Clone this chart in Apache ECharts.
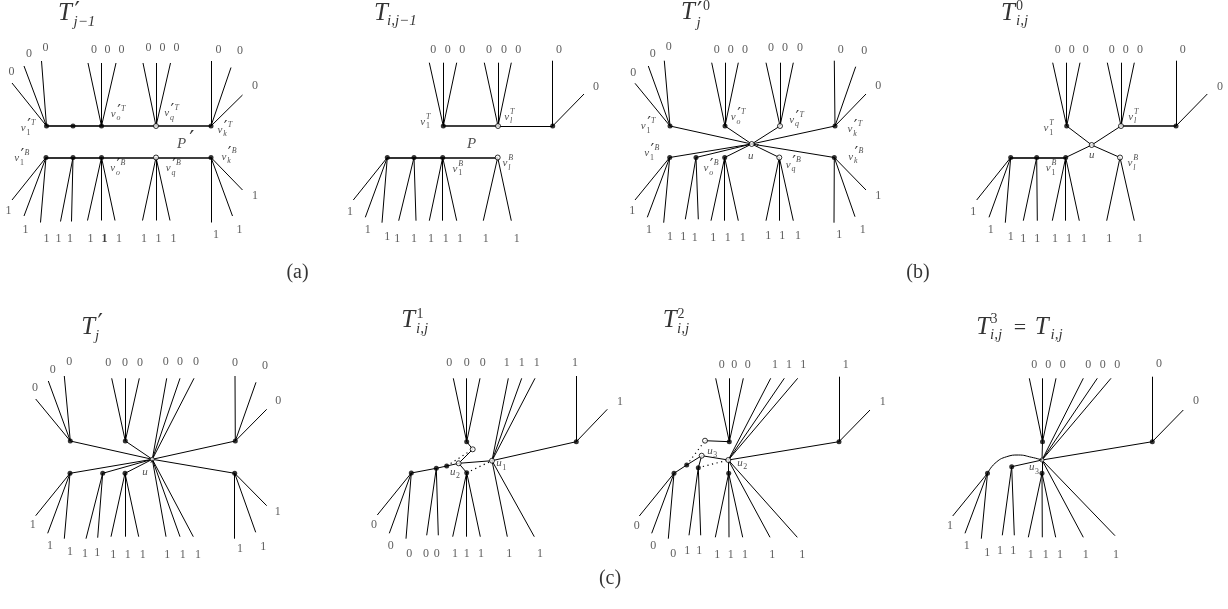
<!DOCTYPE html>
<html><head><meta charset="utf-8">
<script src="https://cdn.jsdelivr.net/npm/echarts/dist/echarts.min.js"></script>
<style>html,body{margin:0;padding:0;background:#fff}#c{width:1228px;height:609px}</style>
</head><body><div id="c"></div>
<script>
// ---------- Panel data: node [id, x, y, type(f=filled,o=open,s=small open)] ----------
// Leaves: [fromNode, endX, endY, label, labelX, labelY, bold?]
// Marks (math labels): [base, sup, sub, x, y, size?]

// (a) T'_{j-1}
const p1Nodes = [['t1',46.5,126,'f'],['t2',73,126,'f'],['to',101.5,126,'f'],['tq',156,126,'o'],['tk',211,126,'f'],
  ['b1',46,157.5,'f'],['b2',73,157.5,'f'],['bo',101.5,157.5,'f'],['bq',156,157.5,'o'],['bk',211,157.5,'f']];
const p1Edges = [];
const p1Thick = [['t1','t2'],['t2','to'],['to','tq'],['tq','tk'],['b1','b2'],['b2','bo'],['bo','bq'],['bq','bk']];
const p1Dotted = [];
const p1Leaves = [
  ['t1',12,83,'0',11.5,72],['t1',24,66,'0',29,54],['t1',41.5,61,'0',45.5,48],
  ['to',88,63,'0',94,50],['to',101.5,63,'0',107.5,50],['to',116,63,'0',121.5,50],
  ['tq',143,63,'0',148.5,48],['tq',156,63,'0',162.5,48],['tq',170.5,63,'0',176.5,48],
  ['tk',211,61,'0',218.5,50],['tk',231,67.5,'0',240,51],['tk',242.5,95,'0',255,86],
  ['b1',12,200,'1',8.5,211],['b1',24,216,'1',25.5,230],['b1',40.5,222.5,'1',46.5,239],
  ['b2',60.5,221.5,'1',58.5,239],['b2',71.5,221.5,'1',70,239],
  ['bo',87.5,220.5,'1',90.5,239],['bo',101.5,220.5,'1',104.5,239,1],['bo',115,220.5,'1',119,239],
  ['bq',142.5,220.5,'1',144,239],['bq',156,220.5,'1',158.5,239],['bq',170,220.5,'1',173.5,239],
  ['bk',211,222.5,'1',216,235],['bk',232.5,216,'1',239.5,230],['bk',242.5,190,'1',255,196]];
const p1Marks = [['v','′T','1',23.3,128.5],['v','′T','o',113.3,114],['v','′T','q',166.7,113.5],['v','′T','k',220,130],
  ['v','′B','1',16.7,158.5],['v','′B','o',112.7,168.5],['v','′B','q',168.3,168.5],['v','′B','k',224,156.7],['P','′','',181.7,144,15]];

// (a) T_{i,j-1}
const p2Nodes = [['t1',443.3,126,'f'],['tl',498,126,'o'],['tr',552.7,126,'f'],
  ['b1',387.3,157.5,'f'],['b2',414,157.5,'f'],['b3',442.7,157.5,'f'],['bl',497.7,157.5,'o']];
const p2Edges = [['tl','tr']];
const p2Thick = [['t1','tl'],['b1','b2'],['b2','b3'],['b3','bl']];
const p2Dotted = [];
const p2Leaves = [
  ['t1',429.3,62.7,'0',433.3,50],['t1',443.3,62.7,'0',447.7,50],['t1',456.7,62.7,'0',462.3,50],
  ['tl',484.3,62.7,'0',489,50],['tl',498,62.7,'0',504,50],['tl',511.3,62.7,'0',518.3,50],
  ['tr',552.7,60.7,'0',559,50],['tr',584,94,'0',596,87.3],
  ['b1',353.3,200,'1',350,211.7],['b1',365.3,217.3,'1',367.7,230],['b1',382,222.7,'1',387.3,237.3],
  ['b2',398.7,220.7,'1',397.3,239.3],['b2',416,220.7,'1',414,239.3],
  ['b3',429.3,220.7,'1',431,239.3],['b3',442.7,220.7,'1',445.7,239.3],['b3',456.7,220.7,'1',460,239.3],
  ['bl',483.3,220.7,'1',485.7,239.3],['bl',511.3,220.7,'1',516.7,239.3]];
const p2Marks = [['v','T','1',422.7,122],['v','T','l',506.7,117],['P','','',471.7,144,15],['v','B','1',455,169],['v','B','l',505,163.5]];

// (b) T'^0_j
const p3Nodes = [['t1',670,126,'f'],['to',725,126,'f'],['tq',780,126,'o'],['tk',835,126,'f'],['u',751.7,144,'o'],
  ['b1',669.7,157.5,'f'],['b2',696,157.5,'f'],['bo',724.7,157.5,'f'],['bq',779.3,157.5,'o'],['bk',834.3,157.5,'f']];
const p3Edges = [['u','t1'],['u','to'],['u','tq'],['u','tk'],['u','b1'],['u','b2'],['u','bo'],['u','bq'],['u','bk']];
const p3Thick = [];
const p3Dotted = [];
const p3Leaves = [
  ['t1',635,83.3,'0',633.3,72.7],['t1',648.3,66,'0',652.7,54],['t1',664.3,60.7,'0',668.7,47.3],
  ['to',711.7,62.7,'0',716.7,50],['to',725,62.7,'0',730.7,50],['to',738.3,62.7,'0',745,50],
  ['tq',766,62.7,'0',771,48],['tq',780,62.7,'0',785,48],['tq',793.3,62.7,'0',800,48],
  ['tk',834.3,60.7,'0',840.7,50],['tk',855.7,66.7,'0',864.3,51],['tk',866,94,'0',878.3,86],
  ['b1',635,200,'1',632.3,210.7],['b1',647.3,217.3,'1',649,230],['b1',663.7,222.7,'1',670,236.7],
  ['b2',685.3,219.3,'1',683.3,237.3],['b2',698.3,219.3,'1',694.7,238],
  ['bo',711,220.7,'1',713.3,238],['bo',724.7,220.7,'1',727.7,238],['bo',738.3,220.7,'1',742.7,238],
  ['bq',766,220.7,'1',768.3,236],['bq',779.3,220.7,'1',782.3,236],['bq',793.3,220.7,'1',798,236],
  ['bk',834,222.7,'1',839.3,235],['bk',855,216.7,'1',862.7,230],['bk',866,190,'1',878.3,196]];
const p3Marks = [['v','′T','1',643.3,126.5],['v','′T','o',733.3,117.5],['v','′T','q',791.7,120],['v','′T','k',850,129.5],
  ['v','′B','1',646.7,153.5],['v','′B','o',706,168.5],['v','′B','q',788.3,165],['v','′B','k',850.7,156.7],['u','′','',750.7,156]];

// (b) T^0_{i,j}
const p4Nodes = [['t1',1066.7,126,'f'],['tl',1121,126,'o'],['tr',1176,126,'f'],['u',1091.7,145,'o'],
  ['b1',1010.7,157.5,'f'],['b2',1036.7,157.5,'f'],['b3',1065.7,157.5,'f'],['bl',1120,157.5,'o']];
const p4Edges = [['t1','u'],['tl','u'],['u','b3'],['u','bl']];
const p4Thick = [['tl','tr'],['b1','b2'],['b2','b3']];
const p4Dotted = [];
const p4Leaves = [
  ['t1',1052.7,62.7,'0',1057.7,50],['t1',1066.7,62.7,'0',1071.7,50],['t1',1080,62.7,'0',1085.7,50],
  ['tl',1107.3,62.7,'0',1111.7,50],['tl',1121,62.7,'0',1125.7,50],['tl',1134.3,62.7,'0',1140,50],
  ['tr',1176,60.7,'0',1182.7,50],['tr',1207.3,94,'0',1220,87.3],
  ['b1',976.7,200,'1',973.3,211.7],['b1',989,217.3,'1',990.7,230],['b1',1005.3,222.7,'1',1010.7,237.3],
  ['b2',1023.3,220.7,'1',1023.3,238.7],['b2',1037.3,220.7,'1',1037.3,238.7],
  ['b3',1052.3,220.7,'1',1055,239],['b3',1065.7,220.7,'1',1069,239],['b3',1079.3,220.7,'1',1084,239],
  ['bl',1106.7,220.7,'1',1109.3,239],['bl',1134.3,220.7,'1',1140,239]];
const p4Marks = [['v','T','1',1046,128.5],['v','T','l',1130.7,117],['u','','',1091.7,155],['v','B','1',1048.3,168.5],['v','B','l',1130,163.5]];

// (c) T'_j
const p5Nodes = [['t1',70.3,441,'f'],['to',125.3,441,'f'],['tk',235.3,441,'f'],['u',152.3,459.3,'s'],
  ['b1',70,473.3,'f'],['b2',102.7,473.3,'f'],['bo',125,473.3,'f'],['bk',234.7,473.3,'f']];
const p5Edges = [['u','t1'],['u','to'],['u','tk'],['u','b1'],['u','b2'],['u','bo'],['u','bk']];
const p5Thick = [];
const p5Dotted = [];
const p5Leaves = [
  ['t1',35.7,399,'0',35,388.3],['t1',48.3,381,'0',52.7,370],['t1',64.3,376,'0',69.3,361.7],
  ['to',111.7,378.3,'0',108.3,362.7],['to',125.3,378.3,'0',125,362.7],['to',139.3,378.3,'0',140,362.7],
  ['u',166.7,378.3,'0',165.7,361.7],['u',180,378.3,'0',180,361.7],['u',194,378.3,'0',196,361.7],
  ['u',166,536.7,'1',167.3,555],['u',180,536.7,'1',182.7,555],['u',193.3,536.7,'1',198,555],
  ['tk',235,376,'0',235,362.7],['tk',256,382.3,'0',265,366],['tk',266.7,409.3,'0',278.3,400.7],
  ['b1',35.7,515.7,'1',32.7,525],['b1',47.7,533.3,'1',50,545.7],['b1',64.3,538.7,'1',70,551.7],
  ['b2',86,538.7,'1',85,554],['b2',97.7,537.7,'1',97.3,553],
  ['bo',111,536.7,'1',113.3,555],['bo',125,536.7,'1',127.7,555],['bo',138.7,536.7,'1',142.7,555],
  ['bk',234.7,538.7,'1',240,549.3],['bk',255.7,532.3,'1',263.3,546.7],['bk',266.7,505.7,'1',277.7,511.7]];
const p5Marks = [['u','′','',145,472.5]];

// (c) T^1_{i,j}
const p6Nodes = [['A',466.7,441.7,'f'],['B',472.7,449.3,'o'],['u2',458.7,463.3,'o'],['u1',492,460.7,'o'],['R',576.3,441.7,'f'],
  ['C',466.7,472.7,'f'],['L1',411.3,473,'f'],['L2',436.3,468.3,'f'],['L3',446.7,466,'f']];
const p6Edges = [['A','B'],['B','u2'],['u2','u1'],['u1','R'],['L1','L2'],['L2','L3'],['L3','u2'],['u2','C']];
const p6Thick = [];
const p6Dotted = [['L3','B'],['C','u1']];
const p6Leaves = [
  ['A',453.3,378.3,'0',449.3,362.7],['A',466.7,378.3,'0',466.7,362.7],['A',480,378.3,'0',482.7,362.7],
  ['u1',508.3,378.3,'1',506.7,362.7],['u1',521.7,378.3,'1',521.7,362.7],['u1',535,378.3,'1',536.7,362.7],
  ['u1',507.3,536.7,'1',509.3,554],['u1',534.3,536.7,'1',540,554],
  ['R',576.3,376,'1',575,362.7],['R',607.3,409.3,'1',620,401.7],
  ['C',452.7,536.7,'1',455,554],['C',466.7,536.7,'1',466.7,554],['C',480.3,536.7,'1',481,554],
  ['L1',377.3,515,'0',374,525],['L1',389.3,533.3,'0',390.7,546],['L1',406,538.7,'0',409.3,554],
  ['L2',426.7,535.3,'0',426,554],['L2',438.3,535.3,'0',436.7,554]];
const p6Marks = [['u','','1',499,463.5],['u','','2',452.7,471.7]];

// (c) T^2_{i,j}
const p7Nodes = [['A',729.3,441.7,'f'],['T',705,440.7,'o'],['u3',701.7,455.7,'o'],['u2',728.3,460,'o'],['R',839,441.7,'f'],
  ['C',728.7,473.3,'f'],['L1',674,473.3,'f'],['L2',686.7,465,'f'],['L3',698.3,467.7,'f']];
const p7Edges = [['T','A'],['L1','L2'],['L2','u3'],['u3','u2'],['u3','L3'],['u2','R'],['u2','C']];
const p7Thick = [];
const p7Dotted = [['L2','T'],['L3','u2']];
const p7Leaves = [
  ['A',715.7,378.3,'0',721.7,365],['A',729.3,378.3,'0',734.3,365],['A',743.3,378.3,'0',747.7,365],
  ['u2',770.7,378.3,'1',775,365],['u2',784.3,378.3,'1',789,365],['u2',797.7,378.3,'1',803.3,365],
  ['u2',770,537.3,'1',772.3,555],['u2',797.3,537.3,'1',802.3,555],
  ['R',839,376.7,'1',845.7,365],['R',870,410,'1',882.7,401.7],
  ['C',715.3,537.3,'1',717.3,555],['C',729,537.3,'1',730.7,555],['C',742.7,537.3,'1',745,555],
  ['L1',639.3,516,'0',636.7,526],['L1',651.7,533.3,'0',653.3,546],['L1',668.3,538.7,'0',673.3,554],
  ['L3',689,535.3,'1',687.3,550.7],['L3',700.7,535.3,'1',699.3,550.7]];
const p7Marks = [['u','','3',710,450.7],['u','','2',740,462.7]];

// (c) T^3_{i,j} = T_{i,j}
const p8Nodes = [['A',1042.5,441.7,'f'],['u3',1042,460,'s'],['R',1152.3,441.7,'f'],['C',1042,473.3,'f'],
  ['L1',987.5,473.3,'f'],['L2',1011.7,466.7,'f']];
const p8Edges = [['A','u3'],['u3','C'],['u3','R'],['L2','u3']];
const p8Thick = [];
const p8Dotted = [];
const p8Curve = [[987.5,473.3],[995,463.3],[1006.7,456.7],[1018.3,455],[1031.7,457.3],[1042,460]];
const p8Leaves = [
  ['A',1029.3,378.3,'0',1034.3,365],['A',1042.7,378.3,'0',1048.3,365],['A',1056,378.3,'0',1062.7,365],
  ['u3',1083.3,378.3,'0',1088.3,365],['u3',1097.3,378.3,'0',1102.7,365],['u3',1111,378.3,'0',1117.3,365],
  ['u3',1083.3,537.3,'1',1085.7,555],['u3',1115,535.7,'1',1116,555],
  ['R',1152.3,376.7,'0',1159,364.3],['R',1183.3,410,'0',1196,401],
  ['C',1028.3,537.3,'1',1030.7,555],['C',1042.3,537.3,'1',1045.7,555],['C',1055.7,537.3,'1',1060,555],
  ['L1',952.7,516,'1',950,526],['L1',965,533.3,'1',966.7,546],['L1',981.3,538.7,'1',987.3,553.3],
  ['L2',1002.3,535.3,'1',1000,550.7],['L2',1014.3,535.3,'1',1013.3,550.7]];
const p8Marks = [['u','','3',1031.7,467.5]];

// Titles / captions: [text, x, y, kind, align]
const titleBits = [
  ['T',65,13.5,'big','center'],['′',74.5,13,'pr','left'],['j−1',73.5,22,'mid','left'],
  ['T',381,13.5,'big','center'],['i,j−1',387,21.5,'mid','left'],
  ['T',688,12.5,'big','center'],['′',697,12.5,'pr','left'],['0',703,6.5,'midn','left'],['j',696.5,23,'mid','left'],
  ['T',1008,13,'big','center'],['0',1016,6,'midn','left'],['i,j',1016,21.5,'mid','left'],
  ['T',88.3,327,'big','center'],['′',97.5,325,'pr','left'],['j',95,336.5,'mid','left'],
  ['T',408.3,320.5,'big','center'],['1',416.5,314,'midn','left'],['i,j',416,329.5,'mid','left'],
  ['T',669.7,320.5,'big','center'],['2',677.5,314,'midn','left'],['i,j',677,329.5,'mid','left'],
  ['T',983.3,327.5,'big','center'],['3',990.5,319,'midn','left'],['i,j',990,335,'mid','left'],
  ['=',1020,328,'bign','center'],['T',1041.7,327.5,'big','center'],['i,j',1050.5,335,'mid','left'],
  ['(a)',297.5,272.5,'cap','center'],['(b)',918,273,'cap','center'],['(c)',610,579,'cap','center']];

// ---------- build ----------
const FONT = '"Liberation Serif", "DejaVu Serif", serif';
const PFONT = '"DejaVu Serif", serif';
const STY = {
  num:  {fontSize: 12, fontStyle: 'normal', color: '#333'},
  numb: {fontSize: 12, fontStyle: 'normal', fontWeight: 'bold', color: '#111'},
  it:   {fontSize: 12, fontStyle: 'italic', color: '#222'},
  sm:   {fontSize: 8, fontStyle: 'italic', color: '#222'},
  smn:  {fontSize: 8, fontStyle: 'normal', color: '#222'},
  smp:  {fontSize: 8, fontStyle: 'normal', color: '#000', fontFamily: PFONT},
  pr:   {fontSize: 24, fontStyle: 'normal', color: '#000', fontFamily: PFONT},
  big:  {fontSize: 25, fontStyle: 'italic', color: '#000'},
  bign: {fontSize: 22, fontStyle: 'normal', color: '#000'},
  mid:  {fontSize: 15, fontStyle: 'italic', color: '#000'},
  midn: {fontSize: 14, fontStyle: 'normal', color: '#000'},
  cap:  {fontSize: 20, fontStyle: 'normal', color: '#000'}
};
function txt(s, x, y, kind, align, size) {
  const st = Object.assign({fontFamily: FONT}, STY[kind]);
  if (size) st.fontSize = size;
  return {value: [x, y], label: Object.assign({show: true, position: 'inside', formatter: s,
    align: align || 'center', verticalAlign: 'middle'}, st)};
}
const panels = [
  [p1Nodes, p1Edges, p1Thick, p1Dotted, p1Leaves, p1Marks],
  [p2Nodes, p2Edges, p2Thick, p2Dotted, p2Leaves, p2Marks],
  [p3Nodes, p3Edges, p3Thick, p3Dotted, p3Leaves, p3Marks],
  [p4Nodes, p4Edges, p4Thick, p4Dotted, p4Leaves, p4Marks],
  [p5Nodes, p5Edges, p5Thick, p5Dotted, p5Leaves, p5Marks],
  [p6Nodes, p6Edges, p6Thick, p6Dotted, p6Leaves, p6Marks],
  [p7Nodes, p7Edges, p7Thick, p7Dotted, p7Leaves, p7Marks],
  [p8Nodes, p8Edges, p8Thick, p8Dotted, p8Leaves, p8Marks]
];
const thin = [], thick = [], dots = [], filled = [], open = [], openSmall = [], texts = [];
panels.forEach(([nodes, edges, thk, dot, leaves, marks]) => {
  const m = {};
  nodes.forEach(n => { m[n[0]] = [n[1], n[2]]; });
  nodes.forEach(n => { (n[3] === 'f' ? filled : n[3] === 'o' ? open : openSmall).push([n[1], n[2]]); });
  edges.forEach(e => thin.push({coords: [m[e[0]], m[e[1]]]}));
  thk.forEach(e => thick.push({coords: [m[e[0]], m[e[1]]]}));
  dot.forEach(e => dots.push({coords: [m[e[0]], m[e[1]]]}));
  leaves.forEach(l => {
    thin.push({coords: [m[l[0]], [l[1], l[2]]]});
    texts.push(txt(l[3], l[4], l[5], l[6] ? 'numb' : 'num'));
  });
  marks.forEach(k => {
    const size = k[5] || 11;
    const sx = k[3] + size * 0.3, sy = k[4] - size * 0.5;
    texts.push(txt(k[0], k[3], k[4], 'it', 'center', size));
    let sup = k[1];
    let off = 0;
    if (sup && sup[0] === '′') {
      const px = k[0] === 'v' ? sx + size * 0.05 : k[0] === 'u' ? sx + size * 0.15 : sx + size * 0.2;
      const py = k[0] === 'u' ? sy + size * 0.1 : sy + size * 0.25;
      texts.push(txt('′', px, py, 'smp', 'left', size * 1.5));
      sup = sup.slice(1);
      off = size * 0.4;
    }
    if (sup) texts.push(txt(sup, sx + off, sy, 'sm', 'left', size * 0.72));
    if (k[2]) texts.push(txt(k[2], sx, k[4] + size * 0.38, /\d/.test(k[2]) ? 'smn' : 'sm', 'left', size * 0.72));
  });
});
titleBits.forEach(t => texts.push(txt(t[0], t[1], t[2], t[3], t[4])));

const chart = echarts.init(document.getElementById('c'), null, {renderer: 'canvas'});
chart.setOption({
  animation: false,
  backgroundColor: '#fff',
  grid: {left: 0, right: 0, top: 0, bottom: 0},
  xAxis: {type: 'value', min: 0, max: 1228, show: false},
  yAxis: {type: 'value', min: 0, max: 609, inverse: true, show: false},
  series: [
    {type: 'lines', coordinateSystem: 'cartesian2d', silent: true, data: thin,
     lineStyle: {color: '#000', width: 1, opacity: 1}},
    {type: 'lines', coordinateSystem: 'cartesian2d', silent: true, data: thick,
     lineStyle: {color: '#000', width: 1.6, opacity: 1}},
    {type: 'lines', coordinateSystem: 'cartesian2d', silent: true, data: dots,
     lineStyle: {color: '#000', width: 1.2, type: [1.2, 3.5], opacity: 1}},
    {type: 'line', data: p8Curve, smooth: 0.5, symbol: 'none', silent: true,
     lineStyle: {color: '#000', width: 1}},
    {type: 'scatter', data: filled, symbolSize: 5, silent: true, itemStyle: {color: '#000'}},
    {type: 'scatter', data: open, symbolSize: 5, silent: true,
     itemStyle: {color: '#fff', borderColor: '#000', borderWidth: 1}},
    {type: 'scatter', data: openSmall, symbolSize: 4, silent: true,
     itemStyle: {color: '#fff', borderColor: '#000', borderWidth: 0.9}},
    {type: 'scatter', data: texts, symbolSize: 1, silent: true, itemStyle: {color: 'rgba(0,0,0,0)'},
     labelLayout: {hideOverlap: false}}
  ]
});
</script></body></html>
